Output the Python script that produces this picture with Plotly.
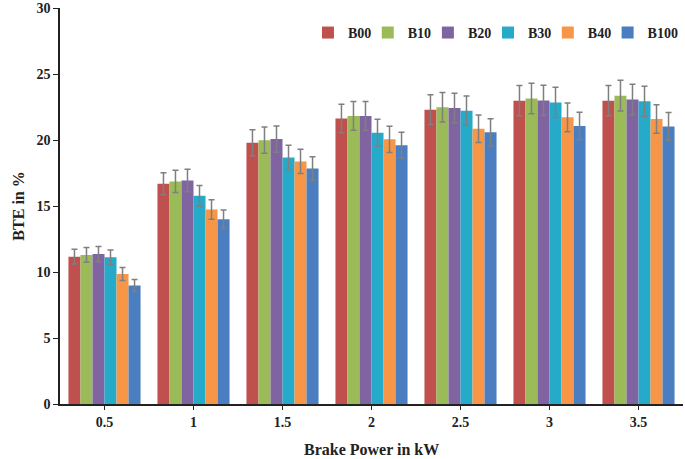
import plotly.graph_objects as go

categories = ["0.5", "1", "1.5", "2", "2.5", "3", "3.5"]
series_names = ["B00", "B10", "B20", "B30", "B40", "B100"]

b00 = [11.16, 16.68, 19.79, 21.62, 22.30, 22.98, 22.98]
b10 = [11.29, 16.86, 19.99, 21.82, 22.48, 23.14, 23.36]
b20 = [11.37, 16.93, 20.07, 21.82, 22.42, 23.00, 23.07]
b30 = [11.11, 15.77, 18.68, 20.55, 22.22, 22.85, 22.93]
b40 = [9.85, 14.73, 18.38, 20.05, 20.86, 21.72, 21.59]
b100 = [8.98, 13.99, 17.84, 19.61, 20.58, 21.06, 21.03]

err_b00 = [0.56, 0.83, 0.99, 1.08, 1.12, 1.15, 1.15]
err_b10 = [0.56, 0.84, 1.00, 1.09, 1.12, 1.16, 1.17]
err_b20 = [0.57, 0.85, 1.00, 1.09, 1.12, 1.15, 1.15]
err_b30 = [0.56, 0.79, 0.93, 1.03, 1.11, 1.14, 1.15]
err_b40 = [0.49, 0.74, 0.92, 1.00, 1.04, 1.09, 1.08]
err_b100 = [0.45, 0.70, 0.89, 0.98, 1.03, 1.05, 1.05]

colors = ["#C0504D", "#9BBB59", "#8064A2", "#25AACA", "#F79646", "#4A7EC0"]

x_title = "Brake Power in kW"
y_title = "BTE in %"

values = [b00, b10, b20, b30, b40, b100]
errors = [err_b00, err_b10, err_b20, err_b30, err_b40, err_b100]

font_family = "Liberation Serif, Times New Roman, serif"
txt = "#222222"

# one single-entry legend per series, laid out in a row at the top right
legend_x = [0.398, 0.494, 0.5905, 0.687, 0.783, 0.879]
legend_ids = ["legend"] + ["legend%d" % (i + 1) for i in range(1, len(series_names))]

fig = go.Figure()
for name, vals, errs, col, lid in zip(series_names, values, errors, colors, legend_ids):
    fig.add_trace(go.Bar(
        x=categories, y=vals, name=name,
        marker=dict(color=col, line=dict(width=0)),
        error_y=dict(type="data", array=errs, visible=True,
                     color="#7F7F7F", thickness=1.5, width=3),
        legend=lid,
    ))

legend_common = dict(orientation="h", y=0.937, yanchor="middle", xanchor="left",
                     font=dict(family=font_family, size=14, color=txt, weight="bold"),
                     bgcolor="rgba(0,0,0,0)", itemwidth=30)

legend_layout = {lid: dict(x=lx, **legend_common) for lid, lx in zip(legend_ids, legend_x)}

fig.update_layout(
    width=685, height=459,
    margin=dict(l=60, r=2, t=8, b=55, autoexpand=False),
    plot_bgcolor="white", paper_bgcolor="white",
    barmode="group", bargap=0.19, bargroupgap=0,
    font=dict(family=font_family, size=13, color=txt),
    showlegend=True,
    annotations=[
        dict(text="<b>" + x_title + "</b>", xref="paper", yref="paper",
             x=0.5, y=-0.115, xanchor="center", yanchor="middle", showarrow=False,
             font=dict(family=font_family, size=16, color=txt)),
        dict(text="<b>" + y_title + "</b>", xref="paper", yref="paper",
             x=-0.068, y=0.5, xanchor="center", yanchor="middle", showarrow=False,
             textangle=-90, font=dict(family=font_family, size=16, color=txt)),
    ],
    **legend_layout,
)

fig.update_xaxes(
    type="category", showline=True, linecolor=txt, linewidth=1.5, automargin=False,
    ticks="outside", ticklen=4, tickcolor=txt, showgrid=False,
    tickfont=dict(family=font_family, size=14, color=txt, weight="bold"),
)
fig.update_yaxes(
    range=[0, 30], dtick=5, showline=True, linecolor=txt, linewidth=1.5, automargin=False,
    ticks="outside", ticklen=5, tickcolor=txt, showgrid=False, zeroline=False,
    tickfont=dict(family=font_family, size=14, color=txt, weight="bold"),
)

fig.write_html("out.html", config={"displayModeBar": False},
               post_script="document.body.style.margin='0';document.body.style.overflow='hidden';")
